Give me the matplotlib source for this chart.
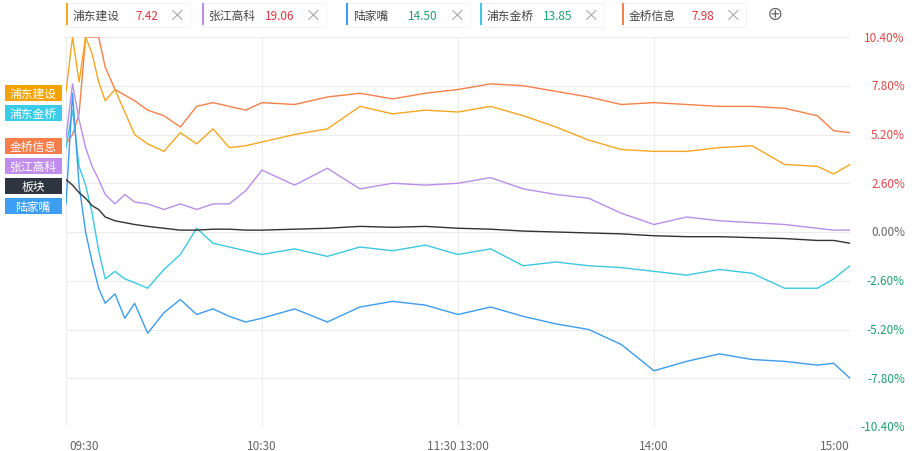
import matplotlib.pyplot as plt
from matplotlib.patches import Rectangle

plt.rcParams['font.family'] = ['Noto Sans CJK SC', 'DejaVu Sans']

# 分钟 (09:30 = 0, 15:00 = 240, 午休压缩)
minutes = [0, 2, 4, 6, 8, 10, 12, 15, 18, 21, 25, 30, 35, 40, 45, 50, 55, 60,
           70, 80, 90, 100, 110, 120, 130, 140, 150, 160, 170, 180, 190, 200,
           210, 220, 230, 235, 240]

jqxx = [4.7, 5.2, 6.3, 10.4, 10.4, 10.4, 8.8, 7.6, 7.3, 7.0, 6.5, 6.2, 5.6, 6.7, 6.9, 6.7, 6.5, 6.9,
        6.8, 7.2, 7.4, 7.1, 7.4, 7.6, 7.9, 7.8, 7.5, 7.2, 6.8, 6.9, 6.8, 6.7,
        6.7, 6.6, 6.2, 5.4, 5.3]
pdjs = [7.5, 10.4, 8.0, 10.4, 9.5, 8.0, 7.0, 7.6, 6.4, 5.2, 4.7, 4.3, 5.3, 4.7, 5.5, 4.5, 4.6, 4.8,
        5.2, 5.5, 6.7, 6.3, 6.5, 6.4, 6.7, 6.2, 5.6, 4.9, 4.4, 4.3, 4.3, 4.5,
        4.6, 3.6, 3.5, 3.1, 3.6]
zjgk = [5.0, 7.9, 6.0, 4.5, 3.5, 2.8, 2.0, 1.5, 2.0, 1.6, 1.5, 1.2, 1.5, 1.2, 1.5, 1.5, 2.2, 3.3,
        2.5, 3.4, 2.3, 2.6, 2.5, 2.6, 2.9, 2.3, 2.0, 1.8, 1.0, 0.4, 0.8, 0.6,
        0.5, 0.4, 0.2, 0.1, 0.1]
bankuai = [2.8, 2.5, 2.1, 1.8, 1.4, 1.2, 0.8, 0.6, 0.5, 0.4, 0.3, 0.2, 0.1, 0.1, 0.15, 0.15, 0.1, 0.1,
           0.15, 0.2, 0.3, 0.25, 0.3, 0.2, 0.15, 0.05, 0.0, -0.05, -0.1, -0.2, -0.25, -0.25,
           -0.3, -0.35, -0.45, -0.45, -0.6]
pdjq = [4.5, 6.5, 3.5, 2.5, 1.0, -1.0, -2.5, -2.1, -2.5, -2.7, -3.0, -2.0, -1.2, 0.2, -0.6, -0.8, -1.0, -1.2,
        -0.9, -1.3, -0.8, -1.0, -0.7, -1.2, -0.9, -1.8, -1.6, -1.8, -1.9, -2.1, -2.3, -2.0,
        -2.2, -3.0, -3.0, -2.5, -1.8]
ljz = [1.5, 7.4, 2.5, 0.0, -1.6, -3.0, -3.8, -3.3, -4.6, -3.8, -5.4, -4.3, -3.6, -4.4, -4.1, -4.5, -4.8, -4.6,
       -4.1, -4.8, -4.0, -3.7, -3.9, -4.4, -4.0, -4.5, -4.9, -5.2, -6.0, -7.4, -6.9, -6.5,
       -6.8, -6.9, -7.1, -7.0, -7.8]

names = ['浦东建设', '张江高科', '陆家嘴', '浦东金桥', '金桥信息']
prices = ['7.42', '19.06', '14.50', '13.85', '7.98']
price_colors = ['#d9363e', '#d9363e', '#1f9e6e', '#1f9e6e', '#d9363e']
line_colors = ['#f5a623', '#b98ee8', '#3d9bf0', '#3cc8e0', '#f5804a']

yticks = [10.4, 7.8, 5.2, 2.6, 0.0, -2.6, -5.2, -7.8, -10.4]
xticks = [0, 60, 120, 180, 240]
xlabels = ['09:30', '10:30', '11:30 13:00', '14:00', '15:00']

fig = plt.figure(figsize=(9.16, 4.52), dpi=100)
fig.patch.set_facecolor('white')
ax = fig.add_axes([66 / 916, 1 - 428 / 452, (850 - 66) / 916, 390 / 452])
ax.set_facecolor('white')

ax.plot(minutes, jqxx, color='#f5804a', lw=1)
ax.plot(minutes, pdjs, color='#f5a623', lw=1)
ax.plot(minutes, zjgk, color='#b98ee8', lw=1)
ax.plot(minutes, pdjq, color='#3cc8e0', lw=1)
ax.plot(minutes, ljz, color='#3d9bf0', lw=1)
ax.plot(minutes, bankuai, color='#333333', lw=1)

ax.set_xlim(0, 240)
ax.set_ylim(-10.4, 10.4)
ax.set_yticks(yticks)
ax.set_xticks(xticks)
ax.grid(True, color='#ececec', lw=0.8)
ax.tick_params(length=0)
ax.set_yticklabels([])
ax.set_xticklabels([])
for s in ax.spines.values():
    s.set_visible(False)

for v in yticks:
    c = '#e04848' if v > 0 else ('#1f9e6e' if v < 0 else '#666666')
    ax.text(1.07, (v + 10.4) / 20.8, f'{v:.2f}%', transform=ax.transAxes, ha='right', va='center',
            fontsize=8.5, color=c)
for t, lab in zip(xticks, xlabels):
    ha = 'left' if t == 0 else ('right' if t == 240 else 'center')
    ax.text(t if t else 1, -0.03, lab, transform=ax.get_xaxis_transform(), ha=ha, va='top',
            fontsize=8.5, color='#666666')

# 顶部图例
lx = [66, 202, 346, 480, 622]
for x0, n, p, pc, lc in zip(lx, names, prices, price_colors, line_colors):
    fig.patches.append(Rectangle((x0 / 916, 1 - 28 / 452), 124 / 916, 24 / 452, transform=fig.transFigure,
                                 facecolor='white', edgecolor='#eeeeee', lw=0.5))
    fig.patches.append(Rectangle((x0 / 916, 1 - 26 / 452), 2 / 916, 22 / 452, transform=fig.transFigure,
                                 facecolor=lc, edgecolor='none'))
    fig.text((x0 + 7) / 916, 1 - 16 / 452, n, fontsize=8.5, color='#444444', va='center')
    fig.text((x0 + 92) / 916, 1 - 16 / 452, p, fontsize=8.5, color=pc, va='center', ha='right')
    fig.text((x0 + 110) / 916, 1 - 16 / 452, '×', fontsize=12, color='#aaaaaa', va='center', ha='center')
fig.text(775 / 916, 1 - 15 / 452, '⊕', fontsize=12, color='#555555', va='center', ha='center')

# 左侧标签
tags = ['浦东建设', '浦东金桥', '金桥信息', '张江高科', '板块', '陆家嘴']
tag_y = [94, 114, 147, 167, 187, 207]
tag_colors = ['#f5a300', '#3ccbe6', '#f77d4a', '#c08de8', '#2f3540', '#3d9ef5']
for t, y, c in zip(tags, tag_y, tag_colors):
    fig.patches.append(Rectangle((5 / 916, 1 - (y + 8) / 452), 57 / 916, 16 / 452, transform=fig.transFigure,
                                 facecolor=c, edgecolor='none'))
    fig.text(33 / 916, 1 - y / 452, t, fontsize=8.5, color='white', va='center', ha='center')

fig.savefig('out.png', dpi=100)
